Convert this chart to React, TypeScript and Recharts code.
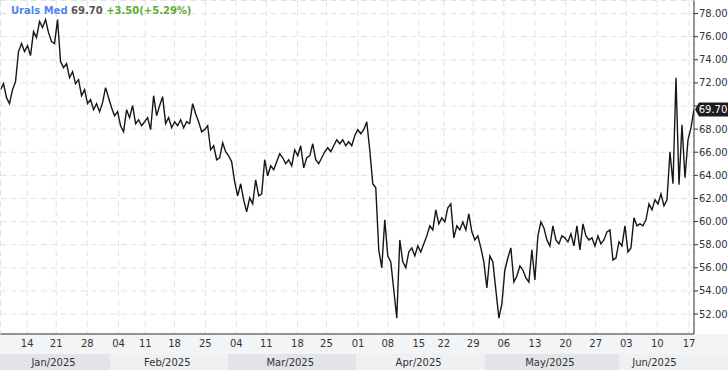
import { LineChart, Line, XAxis, YAxis, CartesianGrid, ReferenceLine } from 'recharts'

// prices, one value every half trading day, grouped by month
const janPrices = [
  71.41, 71.93, 70.72, 70.2, 71.41, 72.11, 74.71, 75.4, 74.71, 75.23,
  74.36, 76.44, 75.92, 77.31, 76.79, 77.48, 76.35, 75.57, 75.4, 77.48,
  73.84, 73.32, 73.67, 72.45, 72.97, 71.93, 72.28, 70.89, 71.41, 70.2,
  70.55, 69.68, 70.2, 69.51, 70.29, 71.59, 70.72,
]
const febPrices = [
  69.85, 69.16, 69.51, 68.29, 67.77, 69.68, 68.99, 70.03, 68.47, 68.81,
  68.29, 68.64, 68.99, 67.95, 70.89, 69.16, 70.03, 70.81, 68.47, 68.99,
  68.12, 68.64, 68.29, 68.81, 68.12, 68.64, 68.47, 70.2, 69.33, 68.64,
  67.77, 67.95, 68.29, 66.21, 66.56, 65.35, 65.52, 66.82, 66.04,
]
const marPrices = [
  65.69, 65.17, 63.44, 62.23, 63.27, 61.88, 60.84, 62.05, 61.53, 63.61,
  62.23, 62.4, 65.35, 63.96, 64.83, 64.48, 65.17, 65.87, 65.52, 65.0,
  65.35, 64.83, 66.21, 65.69, 66.56, 64.65, 65.52, 65.69, 66.73, 65.35,
  65.0, 65.52, 66.04, 66.39, 66.04, 66.56, 67.08, 66.73, 67.08, 66.56,
  66.91, 66.56, 67.43,
]
const aprPrices = [
  67.95, 67.6, 67.95, 68.64, 66.21, 63.27, 62.92, 57.55, 55.99, 60.15,
  57.03, 56.51, 54.08, 51.65, 58.41, 56.51, 55.99, 57.37, 57.72, 57.03,
  57.89, 57.37, 58.07, 58.76, 59.63, 59.28, 61.01, 59.8, 60.32, 59.97,
  61.19, 61.53, 58.59, 59.63, 59.28, 59.97, 59.28, 60.67, 59.11, 58.41,
  58.76, 57.72,
]
const mayPrices = [
  56.51, 54.25, 57.03, 56.51, 54.08, 51.65, 52.87, 55.81, 56.85, 57.72,
  54.77, 55.29, 56.16, 55.81, 55.12, 54.77, 57.55, 54.95, 58.76, 59.97,
  59.45, 58.41, 57.89, 59.63, 58.41, 58.07, 58.76, 58.59, 58.24, 58.93,
  57.89, 59.63, 57.55, 59.8, 58.76, 58.41, 58.59, 57.89, 58.76, 58.07,
  58.41, 59.11, 59.28, 56.68, 56.85,
]
const junPrices = [
  58.24, 57.89, 59.63, 57.37, 57.72, 60.32, 59.63, 59.8, 59.63, 60.15,
  61.53, 61.01, 61.88, 61.53, 62.4, 61.36, 61.88, 66.04, 63.27, 72.45,
  63.18, 68.38, 63.79, 67.08, 68.12, 69.7,
]

// weekly axis (positions in trading days from the first bar)
const weekTicks = [
  4.45, 9.28, 14.45, 19.67, 24.12, 29.0, 34.12, 39.28, 44.28, 49.45, 54.28, 59.55,
  64.5, 69.67, 73.83, 78.72, 83.83, 89.0, 94.12, 99.12, 104.22, 109.38, 114.67,
]
const weekLabels = [
  '14', '21', '28', '04', '11', '18', '25', '04', '11', '18', '25', '01',
  '08', '15', '22', '29', '06', '13', '20', '27', '03', '10', '17',
]

const monthLabels = ['Jan/2025', 'Feb/2025', 'Mar/2025', 'Apr/2025', 'May/2025', 'Jun/2025']
const monthStarts = [0, 18.33, 37.9, 59.28, 80.67, 103]
const monthEnds = [18.33, 37.9, 59.28, 80.67, 103, 121.17]

const priceTicks = [52, 54, 56, 58, 60, 62, 64, 66, 68, 70, 72, 74, 76, 78]

const symbol = 'Urals Med'
const lastPrice = 69.7
const change = '+3.50(+5.29%)'

const X_MIN = 0
const X_MAX = 115.5
const Y_MIN = 50.27
const Y_MAX = 79.13

const prices = [...janPrices, ...febPrices, ...marPrices, ...aprPrices, ...mayPrices, ...junPrices]
const data = prices.map((p, i) => ({ t: i * 0.5, p }))

const FONT = '"DejaVu Sans", sans-serif'

const MonthTick = (props: any) => {
  const { x, y, index } = props
  const k = (props.width || 693.5) / (X_MAX - X_MIN)
  const w = (monthEnds[index] - monthStarts[index]) * k
  const labelEnd = Math.min(monthEnds[index], X_MAX)
  const cx = x + ((labelEnd - monthStarts[index]) * k) / 2 - 2
  return (
    <g>
      <rect x={x - (index === 0 ? 1 : 0)} y={y} width={w + (index === 0 ? 1 : 0)} height={16}
        fill={index % 2 ? '#eef0f2' : '#e2e4e7'} />
      <text x={cx} y={y + 12} textAnchor="middle" fill="#333" fontSize={10} fontFamily={FONT}>
        {monthLabels[index]}
      </text>
    </g>
  )
}

const PriceTag = (props: any) => {
  const vb = props.viewBox || {}
  const x = vb.x + vb.width
  const y = vb.y
  return (
    <g>
      <path d={`M${x + 1},${y} L${x + 5},${y - 7} L${x + 34},${y - 7} L${x + 34},${y + 7} L${x + 5},${y + 7} Z`}
        fill="#1c1c1c" />
      <text x={x + 19} y={y + 4} textAnchor="middle" fill="#fff" fontSize={10} fontFamily={FONT}>
        {lastPrice.toFixed(2)}
      </text>
    </g>
  )
}

// the price tag sits over the nearest tick label, so that label is left blank
const priceLabel = (v: number) => (Math.abs(v - lastPrice) < 1 ? '' : v.toFixed(2))

export default function App() {
  return (
    <div style={{
      position: 'absolute', left: 0, top: 0, width: 728, height: 370,
      background: 'linear-gradient(to bottom, #fff 0px, #fff 334px, #f3f4f6 334px, #f3f4f6 370px)',
      fontFamily: FONT,
    }}>
      <LineChart width={728} height={370} data={data} margin={{ top: 0.5, right: 0, bottom: 0, left: 0.5 }}>
        <CartesianGrid xAxisId="a" yAxisId="r" stroke="#e2e2e2" strokeDasharray="6 4" />
        <XAxis
          xAxisId="b"
          dataKey="t"
          type="number"
          domain={[X_MIN, X_MAX]}
          allowDataOverflow
          ticks={monthStarts}
          interval={0}
          height={16}
          axisLine={false}
          tickLine={false}
          tickSize={0}
          tickMargin={0}
          tick={<MonthTick />}
        />
        <XAxis
          xAxisId="a"
          dataKey="t"
          type="number"
          domain={[X_MIN, X_MAX]}
          allowDataOverflow
          ticks={weekTicks}
          interval={0}
          tickFormatter={(v) => weekLabels[weekTicks.indexOf(v)]}
          height={20}
          tickLine={false}
          tickSize={0}
          tickMargin={6}
          axisLine={{ stroke: '#333' }}
          tick={{ fill: '#333', fontSize: 10, fontFamily: FONT }}
        />
        <XAxis
          xAxisId="top"
          orientation="top"
          dataKey="t"
          type="number"
          domain={[X_MIN, X_MAX]}
          allowDataOverflow
          height={0}
          tick={false}
          tickLine={false}
          axisLine={{ stroke: '#333' }}
        />
        <YAxis
          yAxisId="r"
          orientation="right"
          type="number"
          domain={[Y_MIN, Y_MAX]}
          allowDataOverflow
          ticks={priceTicks}
          interval={0}
          width={34}
          tickSize={4}
          tickMargin={1}
          tickFormatter={priceLabel}
          axisLine={{ stroke: '#333' }}
          tickLine={{ stroke: '#333' }}
          tick={{ fill: '#333', fontSize: 10, fontFamily: FONT }}
        />
        <YAxis
          yAxisId="left"
          orientation="left"
          type="number"
          domain={[Y_MIN, Y_MAX]}
          allowDataOverflow
          width={0}
          tick={false}
          tickLine={false}
          axisLine={{ stroke: '#333' }}
        />
        <Line
          xAxisId="a"
          yAxisId="r"
          type="linear"
          dataKey="p"
          stroke="#161616"
          strokeWidth={1.4}
          dot={false}
          activeDot={false}
          isAnimationActive={false}
        />
        <ReferenceLine
          xAxisId="a"
          yAxisId="r"
          y={lastPrice}
          stroke="none"
          ifOverflow="visible"
          label={<PriceTag />}
        />
      </LineChart>
      <div style={{ position: 'absolute', left: 11, top: 5, fontSize: 10, fontWeight: 'bold', whiteSpace: 'nowrap' }}>
        <span style={{ color: '#4f86ee' }}>{symbol}</span>{' '}
        <span style={{ color: '#555' }}>{lastPrice.toFixed(2)}</span>{' '}
        <span style={{ color: '#5aad2e' }}>{change}</span>
      </div>
    </div>
  )
}
